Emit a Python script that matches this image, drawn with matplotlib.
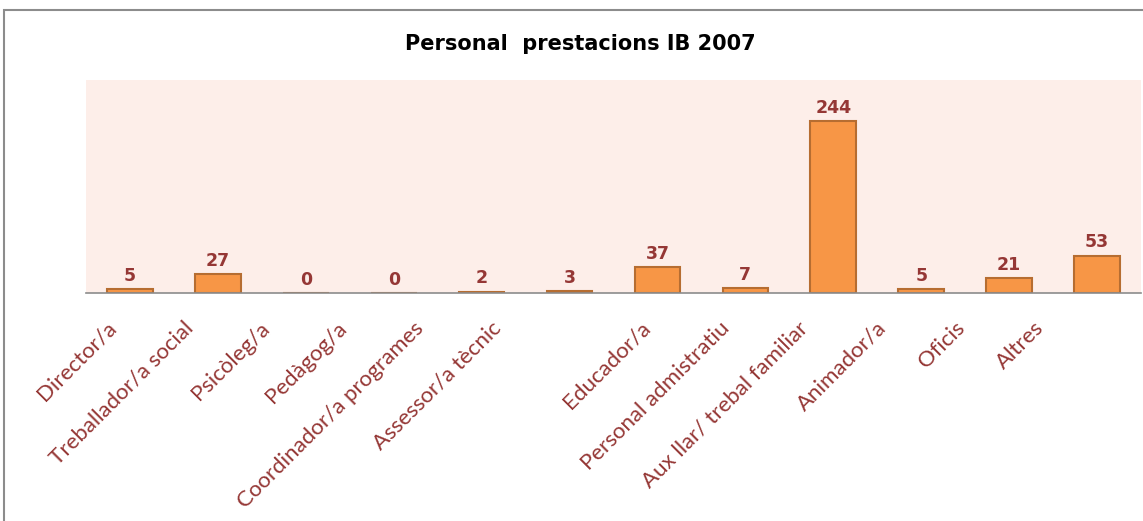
import matplotlib
matplotlib.use("Agg")
import matplotlib.pyplot as plt
from matplotlib.patches import Rectangle
from matplotlib.transforms import ScaledTranslation

categories = ["Director/a", "Treballador/a social", "Psicòleg/a", "Pedàgog/a",
              "Coordinador/a programes", "Assessor/a tècnic", "Educador/a",
              "Personal admistratiu", "Aux llar/ trebal familiar", "Animador/a",
              "Oficis", "Altres"]
values = [5, 27, 0, 0, 2, 3, 37, 7, 244, 5, 21, 53]

TITLE = "Personal  prestacions IB 2007"
LABEL_COLOR = "#953735"
BAR_COLOR = "#F79646"
EDGE_COLOR = "#B66D31"
PLOT_BG = "#FDEEE9"

plt.rcParams["font.family"] = ["Lato", "DejaVu Sans"]

W, H = 1143, 521
fig = plt.figure(figsize=(W / 100, H / 100), dpi=100)

# outer chart frame
fig.patches.append(Rectangle((4 / W, -0.1), 1.2, (H - 10) / H + 0.1,
                             transform=fig.transFigure, fill=False,
                             edgecolor="#8c8c8c", linewidth=1.5))

ax = fig.add_axes([86 / W, (H - 293) / H, (1141 - 86) / W, (293 - 80) / H])
ax.set_facecolor(PLOT_BG)

x = range(len(categories))
ax.bar(x, values, width=0.52, color=BAR_COLOR, edgecolor=EDGE_COLOR, linewidth=1.5)
ax.set_xlim(-0.5, len(categories) - 0.5)
ax.set_ylim(0, 302)

for xi, v in zip(x, values):
    ax.annotate(f"{v}", (xi, v), textcoords="offset points", xytext=(0, 3),
                ha="center", va="bottom", fontsize=12.5, fontweight="bold",
                color=LABEL_COLOR, family="DejaVu Sans")

ax.set_yticks([])
ax.set_xticks(list(x))
ax.set_xticklabels(categories, rotation=45, ha="right", va="top",
                   rotation_mode="anchor", fontsize=16, color=LABEL_COLOR)
ax.tick_params(axis="x", length=0, pad=18)
# the labels in the original drift left of their bars, more so further right
for i, lab in enumerate(ax.get_xticklabels()):
    dx = 13 + 11 * i if i < 6 else 6 + 9.3 * (i - 6)
    shift = ScaledTranslation(-(dx + 11) / 100, 0, fig.dpi_scale_trans)
    lab.set_transform(lab.get_transform() + shift)
for s in ["top", "right", "left"]:
    ax.spines[s].set_visible(False)
ax.spines["bottom"].set_color("#8c8c8c")
ax.spines["bottom"].set_linewidth(1.2)

fig.text(580 / W, 1 - 44 / H, TITLE, ha="center", va="center",
         fontsize=15, fontweight="bold", color="black", family="DejaVu Sans")

fig.savefig("out.png", dpi=100)
